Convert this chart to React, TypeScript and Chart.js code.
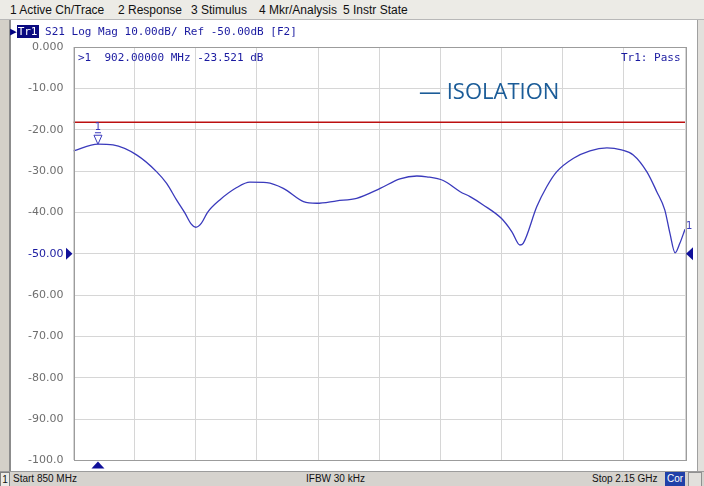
import React, { useEffect, useRef } from "react";
import { Chart, registerables } from "chart.js";

Chart.register(...registerables);

// ---- data ----
const freqMHz = [850, 902, 934, 984, 1027, 1048, 1069, 1087, 1100, 1110, 1122, 1135, 1161, 1197, 1225, 1261, 1296, 1339, 1367, 1410, 1452, 1502, 1544, 1580, 1601, 1636, 1672, 1693, 1721, 1760, 1782, 1799, 1806, 1835, 1856, 1877, 1913, 1948, 1984, 2015, 2040, 2069, 2090, 2107, 2118, 2129, 2139, 2150];
const s21dB = [-25.1, -23.5, -23.7, -26.1, -30.2, -33, -37, -40.2, -42.8, -43.6, -42.6, -40, -37, -34, -32.7, -32.8, -34.2, -37.4, -37.8, -37.2, -36.6, -34.2, -31.9, -31.2, -31.4, -32.3, -35, -36.2, -38.2, -41.5, -44.7, -47.9, -47.5, -38.6, -33.8, -30.2, -26.9, -25.1, -24.4, -24.9, -26.1, -30.2, -35, -39.4, -45.1, -49.8, -47.5, -44.1];
const limitFreqMHz = [850, 2150];
const limitDB = [-18.2, -18.2];
const startMHz = 850;
const stopMHz = 2150;
const freqStep = 130;
const yMin = -100;
const yMax = 0;
const yStep = 10;
const refLevel = -50;
const markerFreq = 902;
const markerValue = -23.521;
const menuItems = ["1 Active Ch/Trace", "2 Response", "3 Stimulus", "4 Mkr/Analysis", "5 Instr State"];
const menuX = [10, 118, 191, 259, 343];

const TRACE = "#3a3abc";
const DARKBLUE = "#1a1aa0";

const markerPlugin = {
  id: "vnaMarkers",
  afterDatasetsDraw(chart: any) {
    const { ctx, chartArea, scales } = chart;
    const x = scales.x;
    const y = scales.y;
    ctx.save();
    ctx.strokeStyle = "#9c9c9c";
    ctx.lineWidth = 1;
    ctx.strokeRect(Math.round(chartArea.left) + 0.5, Math.round(chartArea.top) + 0.5, Math.round(chartArea.right - chartArea.left), Math.round(chartArea.bottom - chartArea.top));
    const mx = x.getPixelForValue(markerFreq);
    const my = y.getPixelForValue(markerValue);
    ctx.strokeStyle = TRACE;
    ctx.lineWidth = 1;
    ctx.beginPath();
    ctx.moveTo(mx - 4, my - 9);
    ctx.lineTo(mx + 4, my - 9);
    ctx.lineTo(mx, my);
    ctx.closePath();
    ctx.stroke();
    ctx.beginPath();
    ctx.moveTo(mx - 3, my - 11.5);
    ctx.lineTo(mx + 3, my - 11.5);
    ctx.stroke();
    ctx.fillStyle = TRACE;
    ctx.font = "10px 'DejaVu Sans'";
    ctx.textAlign = "center";
    ctx.textBaseline = "bottom";
    ctx.fillText("1", mx, my - 12);
    ctx.fillStyle = "#10109a";
    ctx.beginPath();
    ctx.moveTo(mx, chartArea.bottom + 1);
    ctx.lineTo(mx - 6.5, chartArea.bottom + 8);
    ctx.lineTo(mx + 6.5, chartArea.bottom + 8);
    ctx.closePath();
    ctx.fill();
    const ry = y.getPixelForValue(refLevel);
    ctx.beginPath();
    ctx.moveTo(chartArea.left - 7.5, ry - 6);
    ctx.lineTo(chartArea.left - 7.5, ry + 6);
    ctx.lineTo(chartArea.left - 1, ry);
    ctx.closePath();
    ctx.fill();
    ctx.beginPath();
    ctx.moveTo(chartArea.right + 1, ry);
    ctx.lineTo(chartArea.right + 8, ry - 6.5);
    ctx.lineTo(chartArea.right + 8, ry + 6.5);
    ctx.closePath();
    ctx.fill();
    const ey = y.getPixelForValue(s21dB[s21dB.length - 1]);
    ctx.fillStyle = TRACE;
    ctx.textAlign = "left";
    ctx.textBaseline = "bottom";
    ctx.fillText("1", chartArea.right + 1, ey + 2);
    ctx.restore();
  },
};

function fmtTick(v: number): string {
  if (v === 0) return "0.000";
  if (v === -100) return "-100.0";
  return v.toFixed(2);
}

export default function App() {
  const ref = useRef<HTMLCanvasElement | null>(null);
  useEffect(() => {
    document.body.style.margin = "0";
    const canvas = ref.current;
    if (!canvas) return;
    const chart = new Chart(canvas, {
      type: "line",
      data: {
        datasets: [
          {
            label: "ISOLATION",
            data: freqMHz.map((f, i) => ({ x: f, y: s21dB[i] })),
            borderColor: TRACE,
            borderWidth: 1.3,
            pointRadius: 0,
            cubicInterpolationMode: "monotone",
            fill: false,
          },
          {
            label: "Limit",
            data: limitFreqMHz.map((f, i) => ({ x: f, y: limitDB[i] })),
            borderColor: "#bc1010",
            borderWidth: 1.3,
            pointRadius: 0,
            fill: false,
          },
        ],
      },
      options: {
        animation: false,
        responsive: false,
        devicePixelRatio: 1,
        layout: { padding: { left: 0, right: 13, top: 27, bottom: 0 } },
        plugins: { legend: { display: false }, tooltip: { enabled: false } },
        scales: {
          x: {
            type: "linear",
            min: startMHz,
            max: stopMHz,
            ticks: { stepSize: freqStep, display: false },
            grid: { color: "#d6d6d6", drawTicks: false, lineWidth: 1 },
            border: { display: false },
            afterFit: (s: any) => { s.height = 0; },
          },
          y: {
            min: yMin,
            max: yMax,
            ticks: {
              stepSize: yStep,
              padding: 10,
              callback: (v: any) => fmtTick(Number(v)),
              color: (c: any) => (c.tick && c.tick.value === refLevel ? DARKBLUE : "#6e6e6e"),
              font: { family: "'DejaVu Sans'", size: 11 },
            },
            grid: { color: "#d6d6d6", drawTicks: false, lineWidth: 1 },
            border: { display: false },
            afterFit: (s: any) => { s.width = 63.5; },
          },
        },
      },
      plugins: [markerPlugin],
    } as any);
    return () => chart.destroy();
  }, []);

  const mono = "'DejaVu Sans Mono', monospace";
  const ui = "'Liberation Sans', Arial, sans-serif";

  return (
    <div style={{ position: "fixed", left: 0, top: 0, width: 704, height: 486, background: "#d4d0c8", overflow: "hidden", fontFamily: ui }}>
      <div style={{ position: "absolute", left: 0, top: 0, width: 704, height: 19, background: "#ecebe6", borderBottom: "1px solid #b8b8b8" }}>
        {menuItems.map((m, i) => (
          <span key={m} style={{ position: "absolute", left: menuX[i], top: 3, fontSize: 12, color: "#111", whiteSpace: "nowrap" }}>{m}</span>
        ))}
      </div>
      <div style={{ position: "absolute", left: 9, top: 20, width: 690, height: 451, background: "#ffffff", borderLeft: "2px solid #8c8c8c" }} />
      <div style={{ position: "absolute", left: 697, top: 20, width: 7, height: 451, background: "#e2e0dc", borderLeft: "1px solid #a0a0a0" }} />
      <canvas ref={ref} width={688} height={457} style={{ position: "absolute", left: 10, top: 20, width: 688, height: 457 }} />
      <div style={{ position: "absolute", left: 10, top: 25, fontFamily: mono, fontSize: 11, color: DARKBLUE, whiteSpace: "pre", lineHeight: "13px" }}>
        <span style={{ color: "#000080" }}>▶</span>
        <span style={{ background: "#0a0a80", color: "#ffffff", padding: "0 1px" }}>Tr1</span>
        <span> S21 Log Mag 10.00dB/ Ref -50.00dB [F2]</span>
      </div>
      <div style={{ position: "absolute", left: 78, top: 51, fontFamily: mono, fontSize: 11, color: DARKBLUE, whiteSpace: "pre", lineHeight: "13px" }}>
        {">1  902.00000 MHz -23.521 dB"}
      </div>
      <div style={{ position: "absolute", left: 621, top: 51, fontFamily: mono, fontSize: 11, color: DARKBLUE, whiteSpace: "pre", lineHeight: "13px" }}>
        {"Tr1: Pass"}
      </div>
      <div style={{ position: "absolute", left: 419, top: 75, fontFamily: "'Open Sans', sans-serif", fontSize: 22, color: "#1b5c98", whiteSpace: "pre", lineHeight: "30px" }}>
        {"— ISOLATION"}
      </div>
      <div style={{ position: "absolute", left: 0, top: 471, width: 704, height: 15, background: "#d6d3ce", borderTop: "1px solid #9c9c9c", fontSize: 10, color: "#111" }}>
        <span style={{ position: "absolute", left: 0, top: 0, width: 8, height: 13, border: "1px solid #808080", background: "#ecebe6", textAlign: "center", lineHeight: "13px", fontSize: 10 }}>1</span>
        <span style={{ position: "absolute", left: 13, top: 1, whiteSpace: "nowrap" }}>Start 850 MHz</span>
        <span style={{ position: "absolute", left: 306, top: 1, whiteSpace: "nowrap" }}>IFBW 30 kHz</span>
        <span style={{ position: "absolute", left: 592, top: 1, whiteSpace: "nowrap" }}>Stop 2.15 GHz</span>
        <span style={{ position: "absolute", left: 665, top: 0, height: 14, padding: "0 2px", background: "#2040a8", color: "#fff", lineHeight: "14px", whiteSpace: "nowrap" }}>Cor</span>
        <span style={{ position: "absolute", left: 688, top: 0, width: 12, height: 13, border: "1px solid #909090", background: "#e2e0dc" }} />
      </div>
    </div>
  );
}
